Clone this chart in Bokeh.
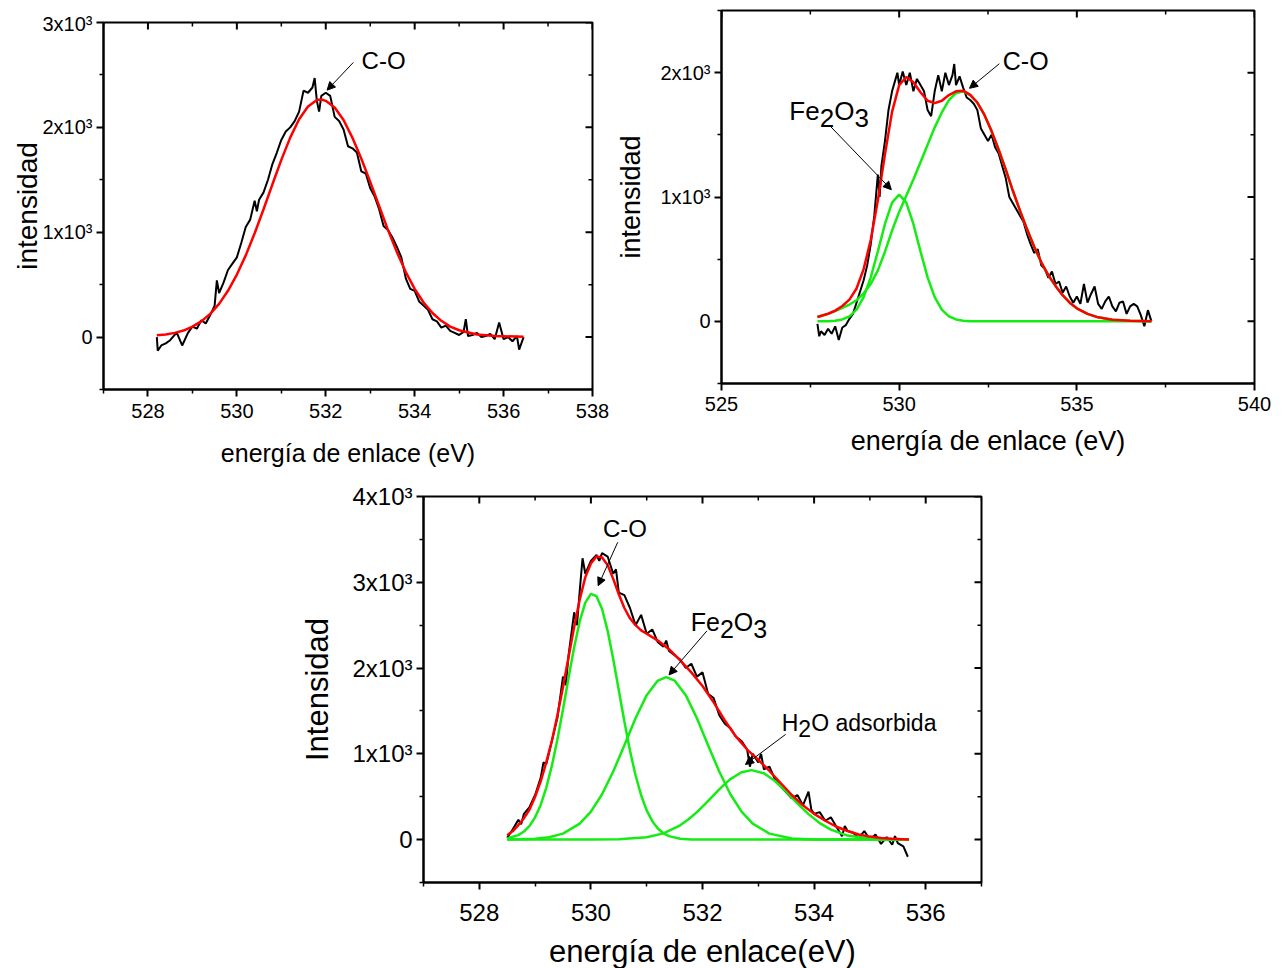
import math
from bokeh.plotting import figure
from bokeh.layouts import column, row
from bokeh.models import Range1d, FixedTicker, Label, Arrow, NormalHead, Spacer
from bokeh.embed import file_html
from bokeh.resources import INLINE

FONT = "Liberation Sans"

# ---------------- Panel 1 (C-O only) ----------------
E1_raw = [528.20, 528.22, 528.30, 528.40, 528.50, 528.60, 528.65, 528.77, 528.90, 529.00,
          529.10, 529.20, 529.30, 529.40, 529.50, 529.55, 529.60, 529.70, 529.80, 529.90,
          530.00, 530.10, 530.20, 530.30, 530.40, 530.45, 530.50, 530.60, 530.70, 530.80,
          530.90, 531.00, 531.10, 531.20, 531.30, 531.40, 531.50, 531.60, 531.70, 531.75,
          531.80, 531.85, 531.90, 532.00, 532.10, 532.20, 532.30, 532.40, 532.50, 532.60,
          532.70, 532.80, 532.90, 533.00, 533.10, 533.20, 533.30, 533.40, 533.50, 533.60,
          533.70, 533.80, 533.90, 534.00, 534.10, 534.20, 534.30, 534.40, 534.50, 534.60,
          534.70, 534.80, 534.90, 535.00, 535.10, 535.15, 535.20, 535.30, 535.40, 535.50,
          535.60, 535.70, 535.80, 535.90, 536.00, 536.10, 536.20, 536.30, 536.35, 536.45]
I1_raw = [0, -130, -80, -60, -30, 20, 40, -80, 40, 100,
          80, 160, 130, 210, 300, 540, 420, 520, 640, 700,
          760, 900, 1050, 1120, 1300, 1200, 1310, 1380, 1500, 1650,
          1760, 1880, 1960, 2000, 2060, 2150, 2350, 2330, 2380, 2470,
          2250, 2150, 2300, 2330, 2300, 2100, 2060, 1980, 1820, 1800,
          1760, 1580, 1560, 1420, 1340, 1220, 1060, 1020, 950, 860,
          760, 560, 460, 440, 340, 300, 260, 170, 150, 90,
          110, 60, 40, 20, 50, 170, 10, 20, 40, 0,
          10, 30, -20, 140, -20, 0, -40, 10, -120, 0]
E1_fit = [528.2, 528.4, 528.6, 528.8, 529.0, 529.2, 529.4, 529.6, 529.8, 530.0,
          530.2, 530.4, 530.6, 530.8, 531.0, 531.2, 531.4, 531.6, 531.8, 531.9,
          532.0, 532.2, 532.4, 532.6, 532.8, 533.0, 533.2, 533.4, 533.6, 533.8,
          534.0, 534.2, 534.4, 534.6, 534.8, 535.0, 535.4, 535.8, 536.45]
I1_fit = [18, 25, 40, 62, 99, 150, 221, 317, 441, 596,
          779, 990, 1219, 1457, 1690, 1902, 2077, 2199, 2260, 2265,
          2253, 2190, 2070, 1900, 1700, 1480, 1250, 1020, 810, 620,
          460, 330, 230, 155, 100, 65, 25, 10, 3]

# ---------------- Panel 2 (Fe2O3 + C-O) ----------------
E2_raw = [527.70, 527.75, 527.80, 527.90, 528.00, 528.10, 528.20, 528.30, 528.40, 528.50,
          528.60, 528.70, 528.80, 528.90, 529.00, 529.10, 529.20, 529.30, 529.40, 529.45,
          529.50, 529.60, 529.70, 529.80, 529.90, 529.95, 530.00, 530.10, 530.20, 530.30,
          530.40, 530.50, 530.60, 530.70, 530.80, 530.90, 531.00, 531.10, 531.20, 531.30,
          531.40, 531.50, 531.55, 531.60, 531.70, 531.80, 531.90, 532.00, 532.10, 532.20,
          532.30, 532.40, 532.50, 532.60, 532.70, 532.80, 532.90, 533.00, 533.10, 533.20,
          533.30, 533.40, 533.50, 533.60, 533.70, 533.80, 533.90, 534.00, 534.10, 534.20,
          534.30, 534.40, 534.50, 534.60, 534.70, 534.80, 534.90, 535.00, 535.10, 535.20,
          535.30, 535.40, 535.50, 535.60, 535.70, 535.80, 535.90, 536.00, 536.10, 536.20,
          536.30, 536.40, 536.50, 536.60, 536.70, 536.80, 536.90, 537.00, 537.10]
I2_raw = [-20, -120, -80, -110, -60, -100, -40, -150, -50, -30,
          20, 60, 150, 240, 330, 450, 620, 850, 1180, 1000,
          1250, 1450, 1700, 1850, 1950, 2000, 1900, 2010, 1900, 2000,
          1850, 1950, 1900, 1850, 1700, 1650, 1850, 1980, 1850, 2000,
          1900, 1980, 2070, 1900, 1970, 1880, 1800, 1780, 1750, 1700,
          1550, 1500, 1450, 1500, 1400, 1350, 1250, 1150, 1000, 950,
          900, 850, 800, 700, 620, 550, 580, 450, 420, 350,
          400, 300, 320, 230, 280, 200, 150, 200, 140, 300,
          150, 220, 280, 140, 100, 160, 200, 120, 80, 150,
          160, 60, 120, 140, 120, 50, -40, 90, 0]
E2_fit = [527.7, 528.0, 528.2, 528.4, 528.6, 528.8, 529.0, 529.2, 529.4, 529.6,
          529.8, 530.0, 530.2, 530.4, 530.6, 530.8, 531.0, 531.2, 531.4, 531.6,
          531.8, 532.0, 532.2, 532.4, 532.6, 532.8, 533.0, 533.2, 533.4, 533.6,
          533.8, 534.0, 534.2, 534.4, 534.6, 534.8, 535.0, 535.3, 535.6, 536.0,
          536.5, 537.1]
I2_fe = [0, 1, 4, 15, 40, 94, 195, 354, 563, 783,
         955, 1020, 955, 783, 563, 354, 195, 94, 40, 15,
         5, 1, 0, 0, 0, 0, 0, 0, 0, 0,
         0, 0, 0, 0, 0, 0, 0, 0, 0, 0,
         0, 0]
I2_co = [35, 60, 82, 108, 135, 170, 225, 300, 410, 560,
         730, 880, 1010, 1140, 1280, 1420, 1560, 1680, 1780, 1835,
         1850, 1820, 1760, 1660, 1530, 1380, 1220, 1050, 890, 740,
         600, 475, 370, 285, 210, 150, 105, 60, 32, 13,
         4, 0]
I2_fit = [35, 61, 86, 123, 175, 264, 420, 654, 973, 1343,
          1685, 1900, 1965, 1923, 1843, 1774, 1755, 1774, 1820, 1850,
          1855, 1821, 1760, 1660, 1530, 1380, 1220, 1050, 890, 740,
          600, 475, 370, 285, 210, 150, 105, 60, 32, 13,
          4, 0]

# ---------------- Panel 3 (C-O + Fe2O3 + H2O) ----------------
E3_raw = [528.50, 528.60, 528.70, 528.75, 528.80, 528.90, 529.00, 529.10, 529.15, 529.20,
          529.30, 529.40, 529.50, 529.55, 529.60, 529.70, 529.75, 529.80, 529.85, 529.90,
          530.00, 530.10, 530.15, 530.20, 530.30, 530.40, 530.45, 530.50, 530.60, 530.70,
          530.80, 530.90, 531.00, 531.10, 531.20, 531.30, 531.35, 531.40, 531.50, 531.60,
          531.70, 531.80, 531.90, 532.00, 532.10, 532.20, 532.30, 532.40, 532.50, 532.60,
          532.70, 532.80, 532.85, 532.90, 533.00, 533.05, 533.10, 533.20, 533.30, 533.40,
          533.50, 533.60, 533.70, 533.80, 533.90, 533.95, 534.00, 534.10, 534.20, 534.30,
          534.40, 534.50, 534.55, 534.60, 534.70, 534.80, 534.90, 535.00, 535.10, 535.20,
          535.30, 535.40, 535.45, 535.50, 535.60, 535.68]
I3_raw = [20, 120, 230, 180, 300, 380, 520, 720, 900, 880,
          1150, 1420, 1900, 1800, 2150, 2650, 2500, 2900, 3280, 3100,
          3250, 3320, 3250, 3340, 3300, 3100, 3150, 2880, 2850, 2700,
          2500, 2620, 2400, 2450, 2300, 2250, 2320, 2200, 2150, 2100,
          2000, 2050, 1900, 1950, 1700, 1650, 1450, 1350, 1300, 1200,
          1150, 1050, 850, 1000, 900, 1000, 820, 850, 700, 620,
          550, 480, 520, 400, 560, 350, 300, 320, 220, 260,
          150, 40, 160, 100, 80, 20, 100, 0, 60, -50,
          30, -60, 40, -40, -80, -200]
E3_fit = [528.5, 528.6, 528.7, 528.8, 528.9, 529.0, 529.1, 529.2, 529.3, 529.4,
          529.5, 529.6, 529.7, 529.8, 529.9, 530.0, 530.1, 530.2, 530.3, 530.4,
          530.5, 530.6, 530.7, 530.8, 530.9, 531.0, 531.2, 531.4, 531.6, 531.8,
          532.0, 532.2, 532.4, 532.6, 532.8, 533.0, 533.2, 533.4, 533.6, 533.8,
          534.0, 534.2, 534.4, 534.6, 534.8, 535.0, 535.2, 535.4, 535.7]
I3_fit = [50, 100, 170, 250, 350, 500, 680, 900, 1150, 1450,
          1780, 2130, 2480, 2800, 3060, 3220, 3300, 3290, 3200, 3040,
          2860, 2700, 2580, 2500, 2440, 2400, 2320, 2220, 2090, 1950,
          1790, 1600, 1390, 1200, 1050, 930, 800, 660, 520, 400,
          300, 220, 150, 100, 60, 35, 20, 10, 0]
E3_co = [528.5, 528.7, 528.8, 528.9, 529.0, 529.1, 529.2, 529.3, 529.4, 529.5,
         529.6, 529.7, 529.8, 529.9, 530.0, 530.1, 530.2, 530.3, 530.4, 530.5,
         530.6, 530.7, 530.8, 530.9, 531.0, 531.1, 531.2, 531.3, 531.4, 531.6,
         531.8, 532.0, 535.7]
I3_co = [14, 52, 94, 160, 260, 404, 604, 859, 1169, 1519,
         1890, 2243, 2546, 2762, 2864, 2838, 2689, 2434, 2106, 1741,
         1376, 1039, 750, 517, 341, 215, 130, 74, 41, 11,
         2, 0, 0]
E3_fe = [528.5, 529.0, 529.25, 529.5, 529.8, 530.0, 530.2, 530.4, 530.6, 530.8,
         531.0, 531.2, 531.35, 531.5, 531.7, 531.9, 532.1, 532.3, 532.5, 532.7,
         532.9, 533.2, 533.6, 534.0, 535.7]
I3_fe = [1, 9, 27, 70, 187, 327, 529, 794, 1101, 1415,
         1684, 1854, 1895, 1854, 1684, 1415, 1101, 794, 529, 327,
         187, 70, 14, 2, 0]
E3_h2o = [528.5, 530.0, 530.5, 531.0, 531.3, 531.6, 531.75, 531.9, 532.05, 532.2,
          532.35, 532.5, 532.7, 532.88, 533.1, 533.3, 533.5, 533.7, 533.9, 534.1,
          534.3, 534.6, 535.0, 535.4, 535.7]
I3_h2o = [0, 0, 3, 27, 73, 167, 237, 321, 417, 519,
          618, 705, 785, 810, 773, 683, 559, 423, 297, 193,
          116, 47, 11, 2, 0]

# ---------------- Axis ticks ----------------
X1_major = [528, 530, 532, 534, 536, 538]
X1_minor = [527, 529, 531, 533, 535, 537]
Y1_major = [0, 1000, 2000, 3000]
Y1_minor = [-500, 500, 1500, 2500]
X2_major = [525, 530, 535, 540]
X2_minor = [527.5, 532.5, 537.5]
Y2_major = [0, 1000, 2000]
Y2_minor = [-500, 500, 1500, 2500]
X3_major = [528, 530, 532, 534, 536]
X3_minor = [527, 529, 531, 533, 535, 537]
Y3_major = [0, 1000, 2000, 3000, 4000]
Y3_minor = [-500, 500, 1500, 2500, 3500]
Y_TICK_TEXT = {0: "0", 1000: "1x10\u00b3", 2000: "2x10\u00b3", 3000: "3x10\u00b3", 4000: "4x10\u00b3"}

BLACK = "#000000"
RED = "#ff0000"
GREEN = "#14ec14"


def make_panel(xr, yr, fw, fh, ml, mr, mt, mb, xmaj, xmin, ymaj, ymin,
               tick_fs, xlabel, ylabel, xl_fs, yl_fs, xtick_stand, xl_stand, yl_stand):
    p = figure(frame_width=fw, frame_height=fh, min_border_left=ml, min_border_right=mr,
               min_border_top=mt, min_border_bottom=mb, x_range=Range1d(*xr), y_range=Range1d(*yr),
               output_backend="svg", toolbar_location=None)
    p.xgrid.visible = False
    p.ygrid.visible = False
    p.outline_line_color = "black"
    p.outline_line_width = 2
    p.background_fill_color = "white"
    p.border_fill_color = "white"
    for ax, maj, mnr in ((p.xaxis[0], xmaj, xmin), (p.yaxis[0], ymaj, ymin)):
        ax.ticker = FixedTicker(ticks=maj, minor_ticks=mnr)
        ax.axis_line_width = 2
        ax.major_tick_line_width = 2
        ax.minor_tick_line_width = 1.5
        ax.major_tick_out = 7
        ax.major_tick_in = 0
        ax.minor_tick_out = 4
        ax.minor_tick_in = 0
        ax.major_label_text_font = FONT
        ax.major_label_text_font_size = f"{tick_fs}px"
        ax.major_label_text_color = "black"
        ax.axis_label_text_font = FONT
        ax.axis_label_text_font_style = "normal"
        ax.axis_label_text_color = "black"
    p.xaxis[0].major_label_standoff = xtick_stand
    p.yaxis[0].major_label_standoff = 4
    p.xaxis[0].major_label_overrides = {v: str(v) for v in xmaj}
    p.yaxis[0].major_label_overrides = {v: Y_TICK_TEXT[v] for v in ymaj}
    p.xaxis[0].axis_label = xlabel
    p.yaxis[0].axis_label = ylabel
    p.xaxis[0].axis_label_text_font_size = f"{xl_fs}px"
    p.yaxis[0].axis_label_text_font_size = f"{yl_fs}px"
    p.xaxis[0].axis_label_standoff = xl_stand
    p.yaxis[0].axis_label_standoff = yl_stand
    # mirrored ticks on top and right edges, pointing inward
    top, right = yr[1], xr[1]
    p.ray(x=xmaj, y=[top] * len(xmaj), length=7, length_units="screen",
          angle=-math.pi / 2, line_color="black", line_width=2)
    p.ray(x=xmin, y=[top] * len(xmin), length=4, length_units="screen",
          angle=-math.pi / 2, line_color="black", line_width=1.5)
    p.ray(x=[right] * len(ymaj), y=ymaj, length=7, length_units="screen",
          angle=math.pi, line_color="black", line_width=2)
    p.ray(x=[right] * len(ymin), y=ymin, length=4, length_units="screen",
          angle=math.pi, line_color="black", line_width=1.5)
    return p


def add_arrow(p, xs, ys, xe, ye):
    p.add_layout(Arrow(end=NormalHead(size=8, fill_color="black", line_color="black", line_width=1),
                       x_start=xs, y_start=ys, x_end=xe, y_end=ye,
                       line_color="black", line_width=1))


def add_pieces(p, x, y, pieces, fs):
    for txt, dx_em, dy in pieces:
        p.add_layout(Label(x=x, y=y, x_offset=dx_em * fs, y_offset=dy, text=txt,
                           text_font=FONT, text_font_size=f"{fs}px", text_color="black",
                           text_align="left", text_baseline="alphabetic"))


# Panel 1 (pushed down 12 px by a spacer so its frame top sits lower than panel 2's)
p1 = make_panel((527, 538), (-500, 3000), 489, 367, 103, 20, 10, 81,
                X1_major, X1_minor, Y1_major, Y1_minor, 20,
                "energía de enlace (eV)", "intensidad", 25, 28, 7, 18, -4)
p1.line(E1_raw, I1_raw, line_color=BLACK, line_width=2)
p1.line(E1_fit, I1_fit, line_color=RED, line_width=2.5)
p1.add_layout(Label(x=533.3, y=2640, text="C-O", text_font=FONT, text_font_size="24px",
                    text_align="center", text_baseline="middle", text_color="black"))
add_arrow(p1, 532.62, 2619, 532.03, 2355)

# Panel 2
p2 = make_panel((525, 540), (-500, 2500), 533, 373, 109, 30, 10, 87,
                X2_major, X2_minor, Y2_major, Y2_minor, 20,
                "energía de enlace (eV)", "intensidad", 27, 27, 6, 12, 11)
p2.line(E2_raw, I2_raw, line_color=BLACK, line_width=2)
p2.line(E2_fit, I2_fe, line_color=GREEN, line_width=2.5)
p2.line(E2_fit, I2_co, line_color=GREEN, line_width=2.5)
p2.line(E2_fit, I2_fit, line_color=RED, line_width=2.5)
p2.add_layout(Label(x=533.56, y=2096, text="C-O", text_font=FONT, text_font_size="25px",
                    text_align="center", text_baseline="middle", text_color="black"))
add_arrow(p2, 532.82, 2072, 531.98, 1874)
add_pieces(p2, 526.91, 1688, [("Fe", 0, 0), ("2", 1.167, -7), ("O", 1.723, 0), ("3", 2.501, -7)], 26)
add_arrow(p2, 528.08, 1564, 529.78, 1059)

# Panel 3
p3 = make_panel((527, 537), (-500, 4000), 558, 386, 423, 30, 26, 80,
                X3_major, X3_minor, Y3_major, Y3_minor, 24,
                "energía de enlace(eV)", "Intensidad", 31, 31, 14, 10, 14)
p3.line(E3_raw, I3_raw, line_color=BLACK, line_width=2)
p3.line(E3_co, I3_co, line_color=GREEN, line_width=2.5)
p3.line(E3_fe, I3_fe, line_color=GREEN, line_width=2.5)
p3.line(E3_h2o, I3_h2o, line_color=GREEN, line_width=2.5)
p3.line(E3_fit, I3_fit, line_color=RED, line_width=2.5)
p3.add_layout(Label(x=530.61, y=3625, text="C-O", text_font=FONT, text_font_size="24px",
                    text_align="center", text_baseline="middle", text_color="black"))
add_arrow(p3, 530.48, 3466, 530.13, 2960)
add_pieces(p3, 531.79, 2540, [("Fe", 0, 0), ("2", 1.167, -7), ("O", 1.723, 0), ("3", 2.501, -7)], 25)
add_arrow(p3, 532.08, 2434, 531.4, 1920)
add_pieces(p3, 533.42, 1363, [("H", 0, 0), ("2", 0.722, -6), ("O adsorbida", 1.278, 0)], 23)
add_arrow(p3, 533.49, 1227, 532.77, 876)

layout = column(row(column(Spacer(width=612, height=12), p1), p2), p3)
open("out.html", "w").write(file_html(layout, INLINE))
